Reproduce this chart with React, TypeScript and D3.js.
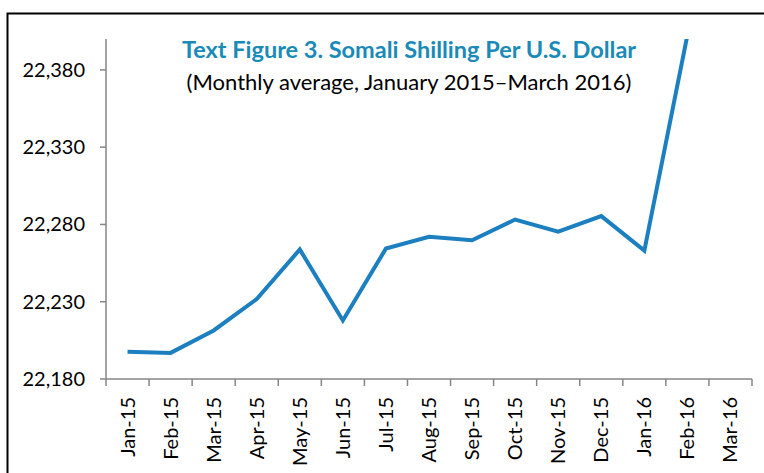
import React from "react";
import * as d3 from "d3";

const months = [
  "Jan-15", "Feb-15", "Mar-15", "Apr-15", "May-15", "Jun-15", "Jul-15", "Aug-15",
  "Sep-15", "Oct-15", "Nov-15", "Dec-15", "Jan-16", "Feb-16", "Mar-16",
];
// Mar-16 has no value in the source
const shillingPerUsd: (number | null)[] = [
  22197.7, 22196.9, 22211.4, 22231.7, 22263.8, 22217.9, 22264.4, 22272.0,
  22269.8, 22283.2, 22275.3, 22285.4, 22263.1, 22402.5, null,
];
const yTicks = [22180, 22230, 22280, 22330, 22380];

const title = "Text Figure 3. Somali Shilling Per U.S. Dollar";
const subtitle = "(Monthly average, January 2015\u2013March 2016)";

const W = 764;
const H = 473;
const margin = { top: 39, right: 12, bottom: 94, left: 106 };
const font = "Lato, 'Open Sans', sans-serif";

export default function App() {
  const plotW = W - margin.left - margin.right;
  const plotH = H - margin.top - margin.bottom;

  const x = d3.scaleBand().domain(months).range([0, plotW]);
  const y = d3.scaleLinear().domain([22180, 22400]).range([plotH, 0]);

  const line = d3
    .line<number | null>()
    .defined((d) => d != null)
    .x((_, i) => (x(months[i]) ?? 0) + x.bandwidth() / 2)
    .y((d) => y(d as number));

  const fmt = d3.format(",");
  const axisColor = "#868686";

  return (
    <svg
      width={W}
      height={H}
      style={{ position: "absolute", left: 0, top: 0, background: "#fff" }}
    >
      <defs>
        <clipPath id="plot">
          <rect x={0} y={0} width={plotW} height={plotH} />
        </clipPath>
      </defs>
      {/* frame: left and top edges visible */}
      <path d={`M7.5,${H} V13.5 H${W}`} fill="none" stroke="#000" strokeWidth={2} />

      <g transform={`translate(${margin.left},${margin.top})`}>
        {/* line */}
        <path
          d={line(shillingPerUsd) ?? ""}
          fill="none"
          stroke="#1b7fc0"
          strokeWidth={4}
          strokeLinejoin="miter"
          clipPath="url(#plot)"
        />

        {/* y axis */}
        <line x1={0} x2={0} y1={0} y2={plotH} stroke={axisColor} strokeWidth={1.5} />
        {yTicks.map((t) => (
          <g key={t} transform={`translate(0,${y(t)})`}>
            <line x1={-6} x2={0} stroke={axisColor} strokeWidth={1.5} />
            <text
              x={-21}
              dy="0.35em"
              textAnchor="end"
              fontFamily={font}
              fontSize={20}
              fill="#000"
            >
              {fmt(t)}
            </text>
          </g>
        ))}

        {/* x axis */}
        <g transform={`translate(0,${plotH})`}>
          <line x1={0} x2={plotW} stroke={axisColor} strokeWidth={1.5} />
          {months.map((m, i) => (
            <line
              key={"t" + m}
              x1={x.step() * i}
              x2={x.step() * i}
              y1={0}
              y2={7}
              stroke={axisColor}
              strokeWidth={1.5}
            />
          ))}
          <line x1={plotW} x2={plotW} y1={0} y2={7} stroke={axisColor} strokeWidth={1.5} />
          {months.map((m) => (
            <text
              key={m}
              transform={`translate(${(x(m) ?? 0) + x.bandwidth() / 2},18) rotate(-90)`}
              dy="0.35em"
              textAnchor="end"
              fontFamily={font}
              fontSize={20}
              fill="#000"
            >
              {m}
            </text>
          ))}
        </g>
      </g>

      {/* titles */}
      <text
        x={409}
        y={58}
        textAnchor="middle"
        fontFamily={font}
        fontWeight="bold"
        fontSize={23.5}
        fill="#1a8ab8"
      >
        {title}
      </text>
      <text
        x={409}
        y={90}
        textAnchor="middle"
        fontFamily={font}
        fontSize={22}
        fill="#000"
      >
        {subtitle}
      </text>
    </svg>
  );
}
